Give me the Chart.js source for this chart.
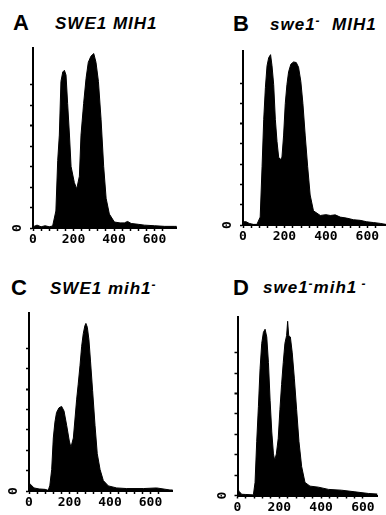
<!DOCTYPE html>
<html><head><meta charset="utf-8">
<script src="https://cdn.jsdelivr.net/npm/chart.js@4.4.0/dist/chart.umd.min.js"></script>
<style>
html,body{margin:0;padding:0;background:#fff;overflow:hidden;}
#root{position:relative;width:386px;height:515px;background:#fff;overflow:hidden;}
.panel{position:absolute;}
.letter{position:absolute;font-family:"Liberation Sans",Arial,sans-serif;font-weight:bold;font-size:22px;line-height:22px;color:#000;}
.gene{position:absolute;font-family:"Liberation Sans",Arial,sans-serif;font-weight:bold;font-style:italic;font-size:17px;line-height:17px;color:#000;white-space:nowrap;letter-spacing:1px;}
.gene sup{font-size:12px;vertical-align:5px;line-height:0;}
</style></head>
<body>
<div id="root">
  <div class="letter" style="left:13px;top:12px;">A</div>
  <div class="gene" style="left:55px;top:15px;">SWE1 MIH1</div>
  <div class="letter" style="left:233px;top:13px;">B</div>
  <div class="gene" style="left:270px;top:16px;">swe1<sup>-</sup>&nbsp; MIH1</div>
  <div class="letter" style="left:11px;top:277px;">C</div>
  <div class="gene" style="left:50px;top:280px;">SWE1 mih1<sup>-</sup></div>
  <div class="letter" style="left:233px;top:277px;">D</div>
  <div class="gene" style="left:263px;top:279px;">swe1<sup>-</sup>mih1<sup>&nbsp;-</sup></div>
</div>
<script>
// ---- data (DNA content channel vs. cell count, in y-tick units) ----
const channelA = [0,20,40,60,80,97,113,122,130,138,147,155,163,171,180,188,204,216,229,237,250,262,273,286,300,311,323,336,349,361,377,402,430,451,467,485,520,550,600,650,700,710];
const countsA  = [0.6,1.4,0.6,1.1,0.6,1,8.3,33,45.4,71.6,76.2,77,74.7,60.8,45.4,30,22.2,19.1,25.3,45.4,60.8,73.1,80.9,83.9,85.2,80.9,71.6,53.1,30,14.5,6.8,2.9,2.5,2.5,3.2,2.2,1.8,1.4,1.1,0.8,0.8,0.8];

const channelB = [0,15,30,50,67,83,92,100,108,116,124,133,140,148,156,164,172,180,188,196,204,212,220,231,244,257,268,279,289,300,312,324,340,373,400,421,445,469,500,533,565,597,630,662,690];
const countsB  = [1.6,1.6,0.8,0.3,0.3,3.9,28.8,52.2,67.8,78.6,82.6,84.1,78.6,69.3,52.2,41.3,33.5,32.2,33.5,44.4,60,69.3,75.6,79.4,80.5,80.2,77.9,70.9,60,44.4,28.8,14.8,7,4.7,5.1,4.7,5,3.9,3.4,2.6,2.3,1.6,1.2,0.8,0.3];

const channelC = [0,10,25,50,80,95,103,112,120,128,136,148,161,173,186,199,207,219,227,235,243,252,260,268,276,281,288,296,304,314,326,337,351,367,392,433,482,565,630,696,710];
const countsC  = [4,3,1.5,1,0.8,0.3,2.8,10.5,26,33.8,38.5,40.8,41.5,39.2,32.2,24.5,21.4,26,35.3,44.7,52.4,61.7,71,77.2,81.1,82.2,80.3,74.1,63.3,49.3,32.2,18.3,10.5,5.1,2.5,1.5,1.2,1.2,1.5,0.5,0.5];

const channelD = [0,8,20,40,60,76,84,92,100,108,116,124,132,140,148,156,164,172,178,186,195,203,211,219,227,235,240,245,253,262,272,283,294,307,323,347,387,435,498,562,626,670];
const countsD  = [3.5,2,0.6,0.5,0.4,0.3,6.4,26.6,43.6,62.2,74.7,80.1,81.6,77.8,65.3,46.7,31.2,20.4,17.3,20.4,28.1,42.1,54.5,65.3,74.7,78.5,85.5,78.5,77.8,70,57.6,42.1,26.6,14.2,6.4,4.6,4.1,3,2.6,1.8,1,0.7];

const xTickLabels = [0, 200, 400, 600];
const yTickLabels = [0];

// ---- layout (pixel geometry of each plot area) ----
const panels = [
  {xs: channelA, ys: countsA, axisLeft: 33,    top: 38,  right: 176.8, bottom: 228,   xMax: 710, yMax: 88},
  {xs: channelB, ys: countsB, axisLeft: 243,   top: 41,  right: 386,   bottom: 225,   xMax: 690, yMax: 86},
  {xs: channelC, ys: countsC, axisLeft: 29,    top: 303, right: 172.8, bottom: 491,   xMax: 710, yMax: 87.4},
  {xs: channelD, ys: countsD, axisLeft: 237.5, top: 307, right: 377.5, bottom: 495.5, xMax: 670, yMax: 87.7}
];

const YW = 24, XH = 22;
const tickFont = {family: '"DejaVu Sans Mono", "Liberation Mono", monospace', size: 13, weight: 'bold'};
const root = document.getElementById('root');

panels.forEach(p => {
  const divLeft = Math.floor(p.axisLeft) - 30;
  const divTop = Math.floor(p.top) - 6;
  const width = Math.ceil(p.right - divLeft) + 3;
  const height = Math.ceil(p.bottom - divTop) + 28;
  const c = document.createElement('canvas');
  c.width = width; c.height = height;
  c.className = 'panel';
  c.style.left = divLeft + 'px'; c.style.top = divTop + 'px';
  c.style.width = width + 'px'; c.style.height = height + 'px';
  root.appendChild(c);
  const pad = {
    left: p.axisLeft - divLeft - YW,
    top: p.top - divTop,
    right: width - (p.right - divLeft),
    bottom: height - (p.bottom - divTop) - XH
  };
  new Chart(c.getContext('2d'), {
    type: 'line',
    data: {
      datasets: [{
        data: p.xs.map((x, i) => ({x: x, y: p.ys[i]})),
        fill: 'origin',
        backgroundColor: '#000',
        borderColor: '#000',
        borderWidth: 1,
        pointRadius: 0,
        tension: 0
      }]
    },
    options: {
      responsive: false,
      animation: false,
      devicePixelRatio: 1,
      layout: {padding: pad},
      plugins: {legend: {display: false}, tooltip: {enabled: false}, title: {display: false}},
      scales: {
        x: {
          type: 'linear', min: 0, max: p.xMax,
          border: {display: true, color: '#000', width: 2},
          grid: {display: true, drawOnChartArea: false, drawTicks: true, tickLength: 3,
                 tickWidth: 1.5,
                 tickColor: ctx => (ctx.tick && ctx.tick.value % 40 === 0) ? '#000' : 'rgba(0,0,0,0)'},
          ticks: {stepSize: 40, autoSkip: false, maxRotation: 0, minRotation: 0, padding: 1,
                  color: '#000', font: tickFont,
                  callback: v => xTickLabels.includes(v) ? String(v) : ''},
          afterFit: s => { s.height = XH; }
        },
        y: {
          type: 'linear', min: 0, max: p.yMax,
          border: {display: true, color: '#000', width: 2},
          grid: {display: true, drawOnChartArea: false, drawTicks: true, tickLength: 3,
                 tickWidth: ctx => (ctx.tick && ctx.tick.value === 50) ? 2 : 1.5,
                 tickColor: ctx => (ctx.tick && ctx.tick.value % 10 === 0) ? '#000' : 'rgba(0,0,0,0)'},
          ticks: {stepSize: 10, autoSkip: false, minRotation: 90, maxRotation: 90, padding: 8,
                  crossAlign: 'center', color: '#000', font: tickFont,
                  callback: v => yTickLabels.includes(v) ? String(v) : ''},
          afterFit: s => { s.width = YW; }
        }
      }
    }
  });
});
</script>
</body></html>
